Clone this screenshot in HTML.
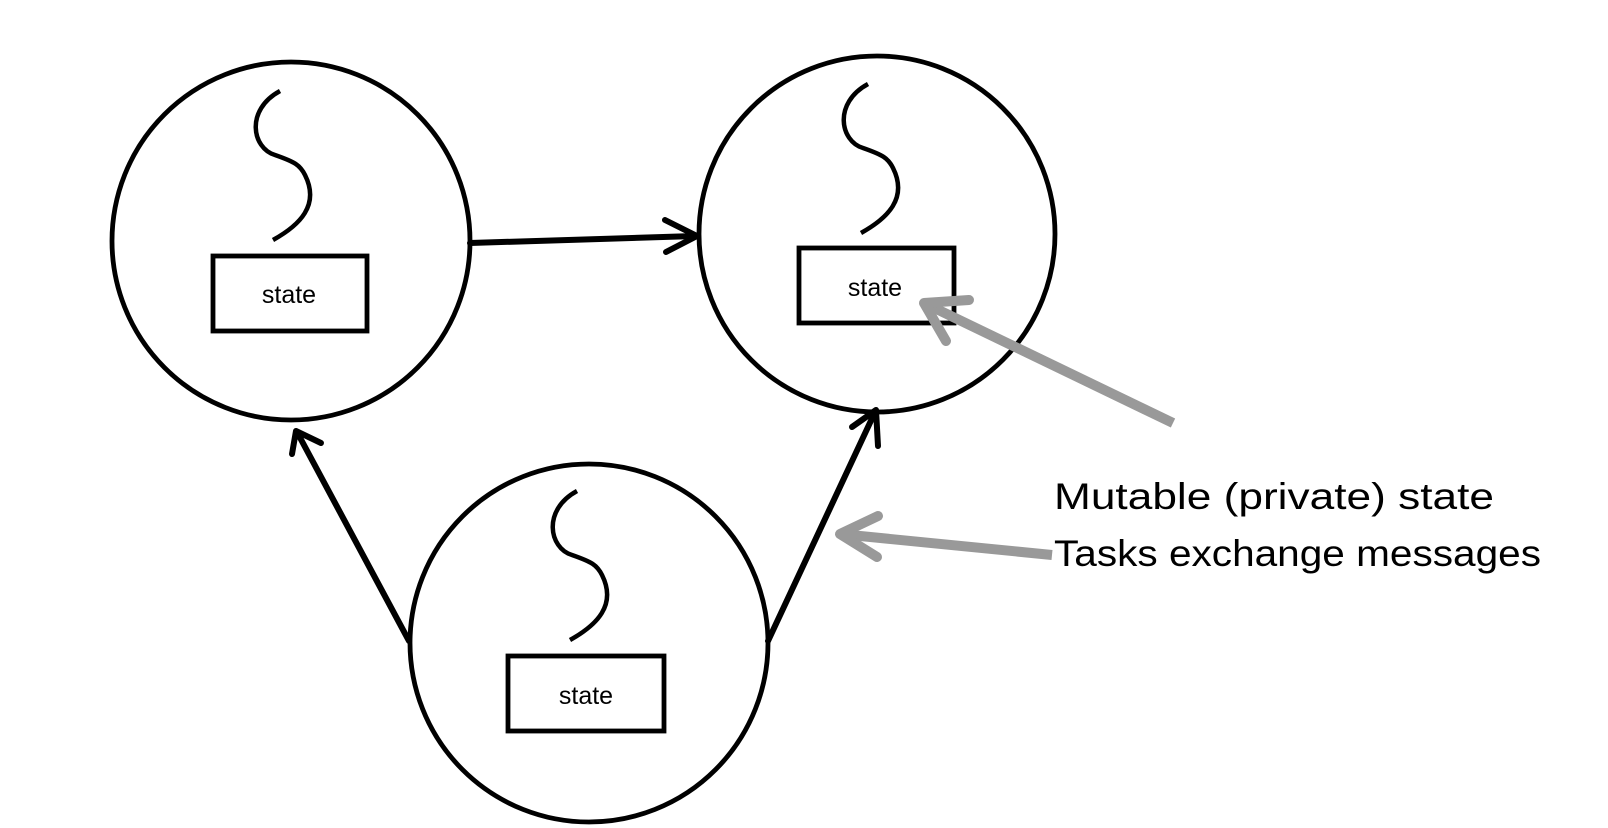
<!DOCTYPE html>
<html><head><meta charset="utf-8"><style>html,body{margin:0;padding:0;background:#fff}svg{display:block}</style></head>
<body>
<svg width="1608" height="828" viewBox="0 0 1608 828" xmlns="http://www.w3.org/2000/svg">
<defs>
<g id="sq"><path d="M280,91 C245,110 252,148 275,155 C295,162 300,165 305,175 C320,205 300,225 273,240" fill="none" stroke="#000" stroke-width="4.5"/></g>
</defs>
<g fill="none" stroke="#000" stroke-width="4.8">
<circle cx="291" cy="241" r="179"/>
<circle cx="877" cy="234" r="178"/>
<circle cx="589" cy="643" r="179"/>
<rect x="213" y="256" width="154" height="75"/>
<rect x="799" y="248" width="155" height="75"/>
<rect x="508" y="656" width="156" height="75"/>
</g>
<use href="#sq"/>
<use href="#sq" transform="translate(588,-7)"/>
<use href="#sq" transform="translate(297,400)"/>
<g font-family="Liberation Sans, sans-serif" font-size="25" text-anchor="middle" fill="#000">
<text x="289" y="303">state</text>
<text x="875" y="296">state</text>
<text x="586" y="704">state</text>
</g>
<g fill="none" stroke="#000" stroke-width="6" stroke-linecap="round" stroke-linejoin="round">
<line x1="470" y1="243" x2="695" y2="236"/>
<polyline points="665,220 697,236 666,252"/>
<line x1="409" y1="641" x2="297" y2="432"/>
<polyline points="292,454 296,431 321,443"/>
<line x1="768" y1="641" x2="875" y2="412"/>
<polyline points="852,427 876,410 878,446"/>
</g>
<g fill="none" stroke="#999" stroke-width="10" stroke-linejoin="round">
<line x1="1173" y1="423" x2="924" y2="303"/>
<polyline points="969,300 924,303 946,341" stroke-linecap="round"/>
<line x1="1052" y1="555" x2="840" y2="534"/>
<polyline points="878,516 840,534 877,557" stroke-linecap="round"/>
</g>
<g font-family="Liberation Sans, sans-serif" font-size="37" fill="#000">
<text x="1054" y="509" textLength="440" lengthAdjust="spacingAndGlyphs">Mutable (private) state</text>
<text x="1054" y="566" textLength="487" lengthAdjust="spacingAndGlyphs">Tasks exchange messages</text>
</g>
</svg>
</body></html>
